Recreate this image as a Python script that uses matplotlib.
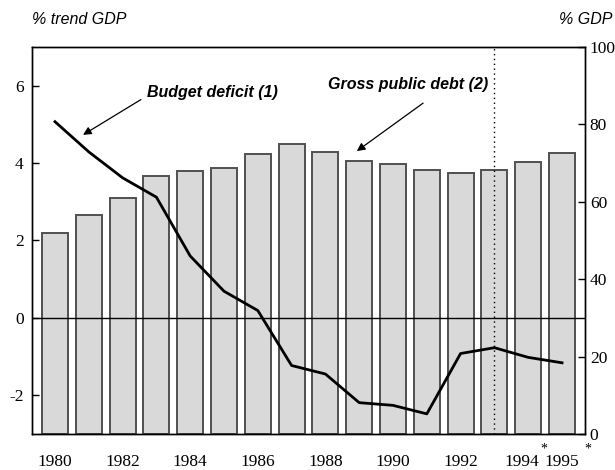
"""Budget deficit and gross public debt, 1980-1995."""

import numpy as np
import matplotlib
matplotlib.use("Agg")
import matplotlib.pyplot as plt
from matplotlib.transforms import ScaledTranslation

years = list(range(1980, 1996))
year_labels = ["1980", "", "1982", "", "1984", "", "1986", "", "1988", "",
               "1990", "", "1992", "", "1994", "1995"]
starred_years = [1994, 1995]
# gross public debt, % of GDP (right scale)
gross_debt = [52.0, 56.7, 60.9, 66.6, 68.0, 68.7, 72.4, 74.9, 72.9, 70.6,
              69.8, 68.2, 67.4, 68.3, 70.3, 72.5]
# budget deficit, % of trend GDP (left scale)
budget_deficit = [5.07, 4.29, 3.62, 3.12, 1.60, 0.69, 0.19, -1.23, -1.45,
                  -2.19, -2.26, -2.48, -0.92, -0.77, -1.02, -1.16]
left_ticks = [-2, 0, 2, 4, 6]
right_ticks = [0, 20, 40, 60, 80, 100]
forecast_start = 1993

serif = "Liberation Serif"
sans = "Liberation Sans"
plt.rcParams["axes.unicode_minus"] = False

fig = plt.figure(figsize=(6.15, 4.7), dpi=100)
ax = fig.add_axes([32 / 615, 36 / 470, 553 / 615, 387 / 470])
ax2 = ax.twinx()
x = np.arange(len(years))

# bars on the right-hand scale
ax.bar(x, gross_debt, width=0.77, color="#d9d9d9", edgecolor="#505050",
       linewidth=1.4, zorder=2)
ax.set_ylim(0, 100)
ax.set_xlim(-0.68, len(years) - 0.32)
ax.yaxis.tick_right()
ax.set_yticks(right_ticks)
ax.tick_params(axis="y", direction="in", length=5, pad=3.5, width=1)
ax.set_xticks(x)
ax.set_xticklabels(year_labels)
ax.tick_params(axis="x", direction="in", length=5, pad=14.5, width=1)
for lab in ax.get_yticklabels() + ax.get_xticklabels():
    lab.set_fontfamily(serif)
    lab.set_fontsize(12.5)
# the 1994 label sits a little to the left to leave room for its star
lab94 = ax.get_xticklabels()[years.index(1994)]
lab94.set_transform(lab94.get_transform()
                    + ScaledTranslation(-6 / 100, 0, fig.dpi_scale_trans))
for yr in starred_years:
    i = years.index(yr)
    ax.text(i + (0.45 if yr == 1994 else 0.75), -0.04, "*",
            transform=ax.get_xaxis_transform(), ha="center", va="center",
            fontsize=10, fontfamily=serif)

# deficit line on the left-hand scale
ax2.yaxis.tick_left()
ax2.set_ylim(-3, 7)
ax2.set_yticks(left_ticks)
ax2.tick_params(axis="y", direction="in", length=5, pad=6, width=1)
for lab in ax2.get_yticklabels():
    lab.set_fontfamily(serif)
    lab.set_fontsize(12.5)
ax2.axhline(0, color="black", linewidth=1)
ax2.axvline(years.index(forecast_start), color="black", linewidth=1,
            linestyle=(0, (1, 2.5)))
ax2.plot(x, budget_deficit, color="black", linewidth=2)

for a in (ax, ax2):
    for sp in a.spines.values():
        sp.set_linewidth(1)

arrow = dict(arrowstyle="-|>", color="black", lw=0.9, shrinkA=0, shrinkB=0,
             mutation_scale=12)
ax2.text(2.72, 5.83, "Budget deficit (1)", fontsize=11.5,
         fontweight="bold", fontstyle="italic", fontfamily=sans,
         ha="left", va="center")
ax2.annotate("", xy=(0.83, 4.73), xytext=(2.54, 5.64), arrowprops=arrow)
ax2.text(10.44, 6.02, "Gross public debt (2)", fontsize=11.5,
         fontweight="bold", fontstyle="italic", fontfamily=sans,
         ha="center", va="center")
ax2.annotate("", xy=(8.93, 4.31), xytext=(10.89, 5.55), arrowprops=arrow)

fig.text(32 / 615, 1 - 20 / 470, "% trend GDP", fontsize=11.5,
         fontstyle="italic", fontfamily=sans, ha="left", va="center")
fig.text(612 / 615, 1 - 20 / 470, "% GDP", fontsize=11.5,
         fontstyle="italic", fontfamily=sans, ha="right", va="center")

plt.savefig("out.png", dpi=100)
